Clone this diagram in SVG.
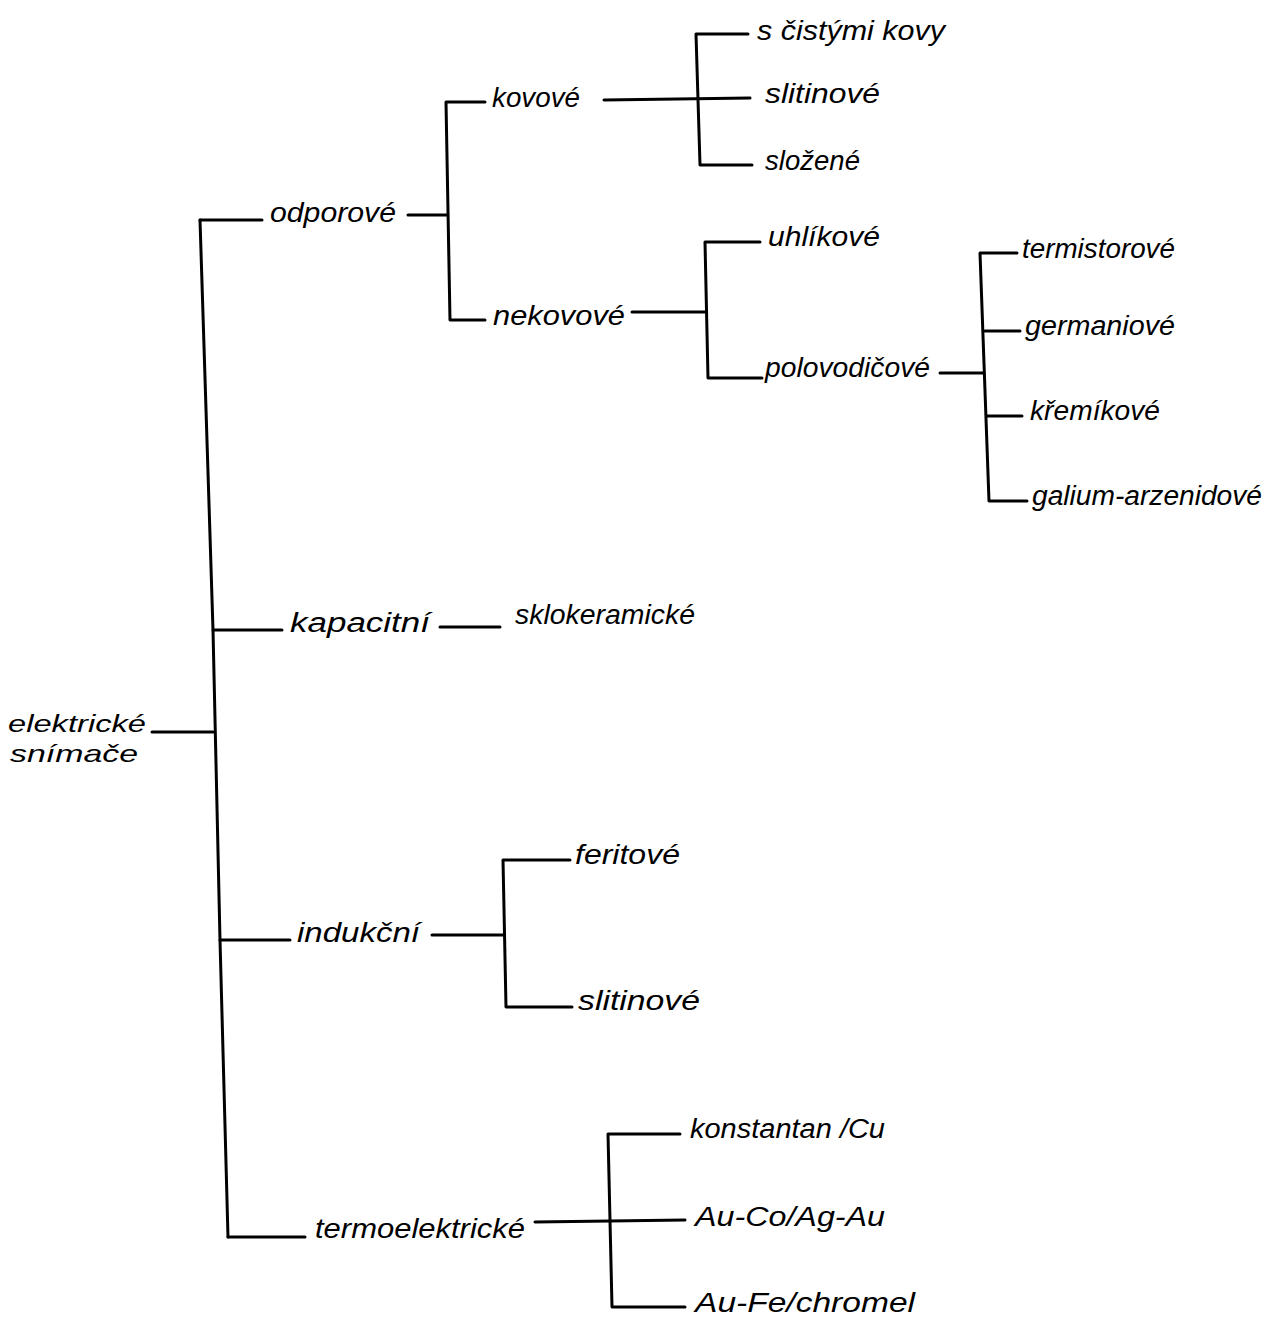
<svg xmlns="http://www.w3.org/2000/svg" width="1267" height="1322" viewBox="0 0 1267 1322">
<style>
.t{font-family:"Liberation Sans","DejaVu Sans",sans-serif;font-style:italic;font-size:27px;fill:#000}
.r{font-size:24px}
.c line,.c polyline{stroke:#000;stroke-width:3;fill:none;stroke-linecap:round;stroke-linejoin:round}
</style>
<rect width="1267" height="1322" fill="#fff"/>
<g class="c" id="connectors">
<polyline points="200,220 213,630 220,940 228,1237"/>
<line x1="152" y1="732" x2="213" y2="732"/>
<line x1="200" y1="220" x2="262" y2="220"/>
<line x1="408" y1="215" x2="447" y2="215"/>
<polyline points="485,102 446,102 450,320 485,320"/>
<line x1="604" y1="100" x2="750" y2="98"/>
<polyline points="748,34 696,34 700,165 752,165"/>
<line x1="632" y1="312" x2="705" y2="312"/>
<polyline points="760,242 705,242 708,378 762,378"/>
<line x1="940" y1="373" x2="984" y2="373"/>
<polyline points="1017,253 980,253 989,501 1027,501"/>
<line x1="985" y1="331" x2="1020" y2="331"/>
<line x1="987" y1="416" x2="1022" y2="416"/>
<line x1="213" y1="630" x2="282" y2="630"/>
<line x1="440" y1="627" x2="500" y2="627"/>
<line x1="220" y1="940" x2="290" y2="940"/>
<line x1="432" y1="935" x2="504" y2="935"/>
<polyline points="570,860 503,860 506,1007 572,1007"/>
<line x1="228" y1="1237" x2="305" y2="1237"/>
<line x1="535" y1="1222" x2="685" y2="1220"/>
<polyline points="680,1134 608,1134 612,1307 685,1307"/>
</g>
<g id="n-root"><text class="t r" x="8" y="732" textLength="138" lengthAdjust="spacingAndGlyphs">elektrické</text><text class="t r" x="10" y="762" textLength="128" lengthAdjust="spacingAndGlyphs">snímače</text></g>
<g id="n-odporove"><text class="t" x="270" y="222" textLength="126" lengthAdjust="spacingAndGlyphs">odporové</text></g>
<g id="n-kovove"><text class="t" x="492" y="107" textLength="88" lengthAdjust="spacingAndGlyphs">kovové</text></g>
<g id="n-cistymi"><text class="t" x="757" y="40" textLength="188" lengthAdjust="spacingAndGlyphs">s čistými kovy</text></g>
<g id="n-slitinove1"><text class="t" x="765" y="103" textLength="115" lengthAdjust="spacingAndGlyphs">slitinové</text></g>
<g id="n-slozene"><text class="t" x="765" y="170" textLength="95" lengthAdjust="spacingAndGlyphs">složené</text></g>
<g id="n-nekovove"><text class="t" x="493" y="325" textLength="132" lengthAdjust="spacingAndGlyphs">nekovové</text></g>
<g id="n-uhlikove"><text class="t" x="768" y="246" textLength="112" lengthAdjust="spacingAndGlyphs">uhlíkové</text></g>
<g id="n-polovodicove"><text class="t" x="765" y="377" textLength="165" lengthAdjust="spacingAndGlyphs">polovodičové</text></g>
<g id="n-termistorove"><text class="t" x="1022" y="258" textLength="153" lengthAdjust="spacingAndGlyphs">termistorové</text></g>
<g id="n-germaniove"><text class="t" x="1025" y="335" textLength="150" lengthAdjust="spacingAndGlyphs">germaniové</text></g>
<g id="n-kremikove"><text class="t" x="1030" y="420" textLength="130" lengthAdjust="spacingAndGlyphs">křemíkové</text></g>
<g id="n-galium"><text class="t" x="1032" y="505" textLength="230" lengthAdjust="spacingAndGlyphs">galium-arzenidové</text></g>
<g id="n-kapacitni"><text class="t" x="290" y="632" textLength="140" lengthAdjust="spacingAndGlyphs">kapacitní</text></g>
<g id="n-sklokeramicke"><text class="t" x="515" y="624" textLength="180" lengthAdjust="spacingAndGlyphs">sklokeramické</text></g>
<g id="n-indukcni"><text class="t" x="297" y="942" textLength="123" lengthAdjust="spacingAndGlyphs">indukční</text></g>
<g id="n-feritove"><text class="t" x="575" y="864" textLength="105" lengthAdjust="spacingAndGlyphs">feritové</text></g>
<g id="n-slitinove2"><text class="t" x="578" y="1010" textLength="122" lengthAdjust="spacingAndGlyphs">slitinové</text></g>
<g id="n-termoelektricke"><text class="t" x="315" y="1238" textLength="210" lengthAdjust="spacingAndGlyphs">termoelektrické</text></g>
<g id="n-konstantan"><text class="t" x="690" y="1138" textLength="195" lengthAdjust="spacingAndGlyphs">konstantan /Cu</text></g>
<g id="n-auco"><text class="t" x="695" y="1226" textLength="190" lengthAdjust="spacingAndGlyphs">Au-Co/Ag-Au</text></g>
<g id="n-aufe"><text class="t" x="695" y="1312" textLength="220" lengthAdjust="spacingAndGlyphs">Au-Fe/chromel</text></g>
</svg>
